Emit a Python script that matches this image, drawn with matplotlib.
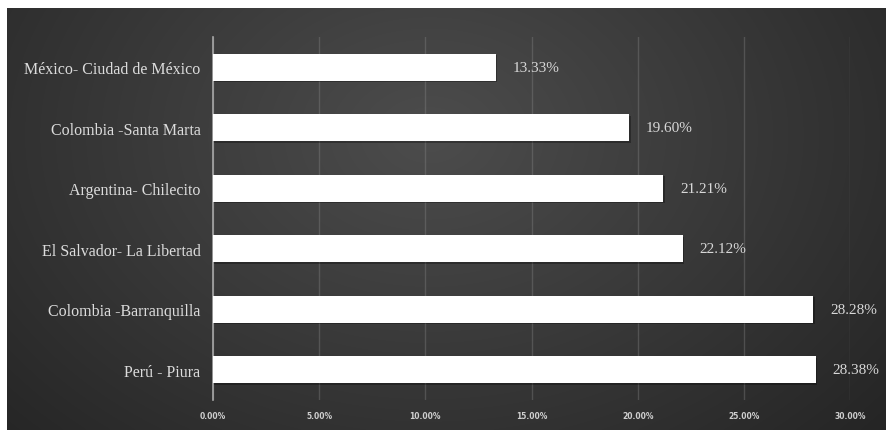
import numpy as np
import matplotlib
matplotlib.use("Agg")
import matplotlib.pyplot as plt
import matplotlib.patheffects as pe

# Data (top to bottom)
ciudades = ["México- Ciudad de México", "Colombia -Santa Marta", "Argentina- Chilecito",
            "El Salvador- La Libertad", "Colombia -Barranquilla", "Perú - Piura"]
porcentajes = [13.33, 19.60, 21.21, 22.12, 28.28, 28.38]
ticks = [0, 5, 10, 15, 20, 25, 30]
tick_labels = ["0.00%", "5.00%", "10.00%", "15.00%", "20.00%", "25.00%", "30.00%"]

W, H = 886, 431
fig = plt.figure(figsize=(W / 100, H / 100), dpi=100)
fig.patch.set_facecolor("white")

# Dark panel with a soft radial highlight
bg = fig.add_axes([7 / W, 0, (W - 7) / W, (H - 9) / H])
ny, nx = 300, 600
yy, xx = np.mgrid[0:ny, 0:nx]
cx, cy = 0.48 * nx, 0.30 * ny
r = np.sqrt(((xx - cx) / (0.62 * nx)) ** 2 + ((yy - cy) / (0.95 * ny)) ** 2)
val = 0.30 - 0.14 * np.clip(r, 0, 1.2)
img = np.dstack([val, val, val])
bg.imshow(img, aspect="auto", extent=[0, 1, 0, 1], interpolation="bicubic")
bg.set_axis_off()

# Bar chart axes
left, right = 213 / W, 850 / W
top, bottom = 1 - 38 / H, 1 - 401 / H
ax = fig.add_axes([left, bottom, right - left, top - bottom])
ax.set_facecolor("none")

y = np.arange(len(ciudades))
ax.barh(y, porcentajes, height=0.45, color="white", zorder=3,
        path_effects=[pe.SimplePatchShadow(offset=(1, -1), shadow_rgbFace="black", alpha=0.3),
                      pe.Normal()])
ax.set_ylim(len(ciudades) - 0.5, -0.5)
ax.set_xlim(0, 30)

for yi, v in zip(y, porcentajes):
    ax.text(v + 0.8, yi, f"{v:.2f}%", va="center", ha="left", color="#d8d8d8",
            fontsize=11, family="Liberation Serif", clip_on=False)

ax.set_yticks(y)
ax.set_yticklabels(ciudades, family="Liberation Serif", fontsize=11.5, color="#dcdcdc")
ax.set_xticks(ticks)
ax.set_xticklabels(tick_labels, fontsize=5.5, color="#cfcfcf", fontweight="bold")
ax.tick_params(axis="both", length=0, pad=8)
ax.tick_params(axis="y", pad=9)

ax.grid(axis="x", color="#8a8a8a", alpha=0.35, linewidth=1.0, zorder=0)
for s in ["top", "right", "bottom"]:
    ax.spines[s].set_visible(False)
ax.spines["left"].set_color("#a8a8a8")
ax.spines["left"].set_linewidth(1.2)

fig.savefig("out.png", dpi=100)
